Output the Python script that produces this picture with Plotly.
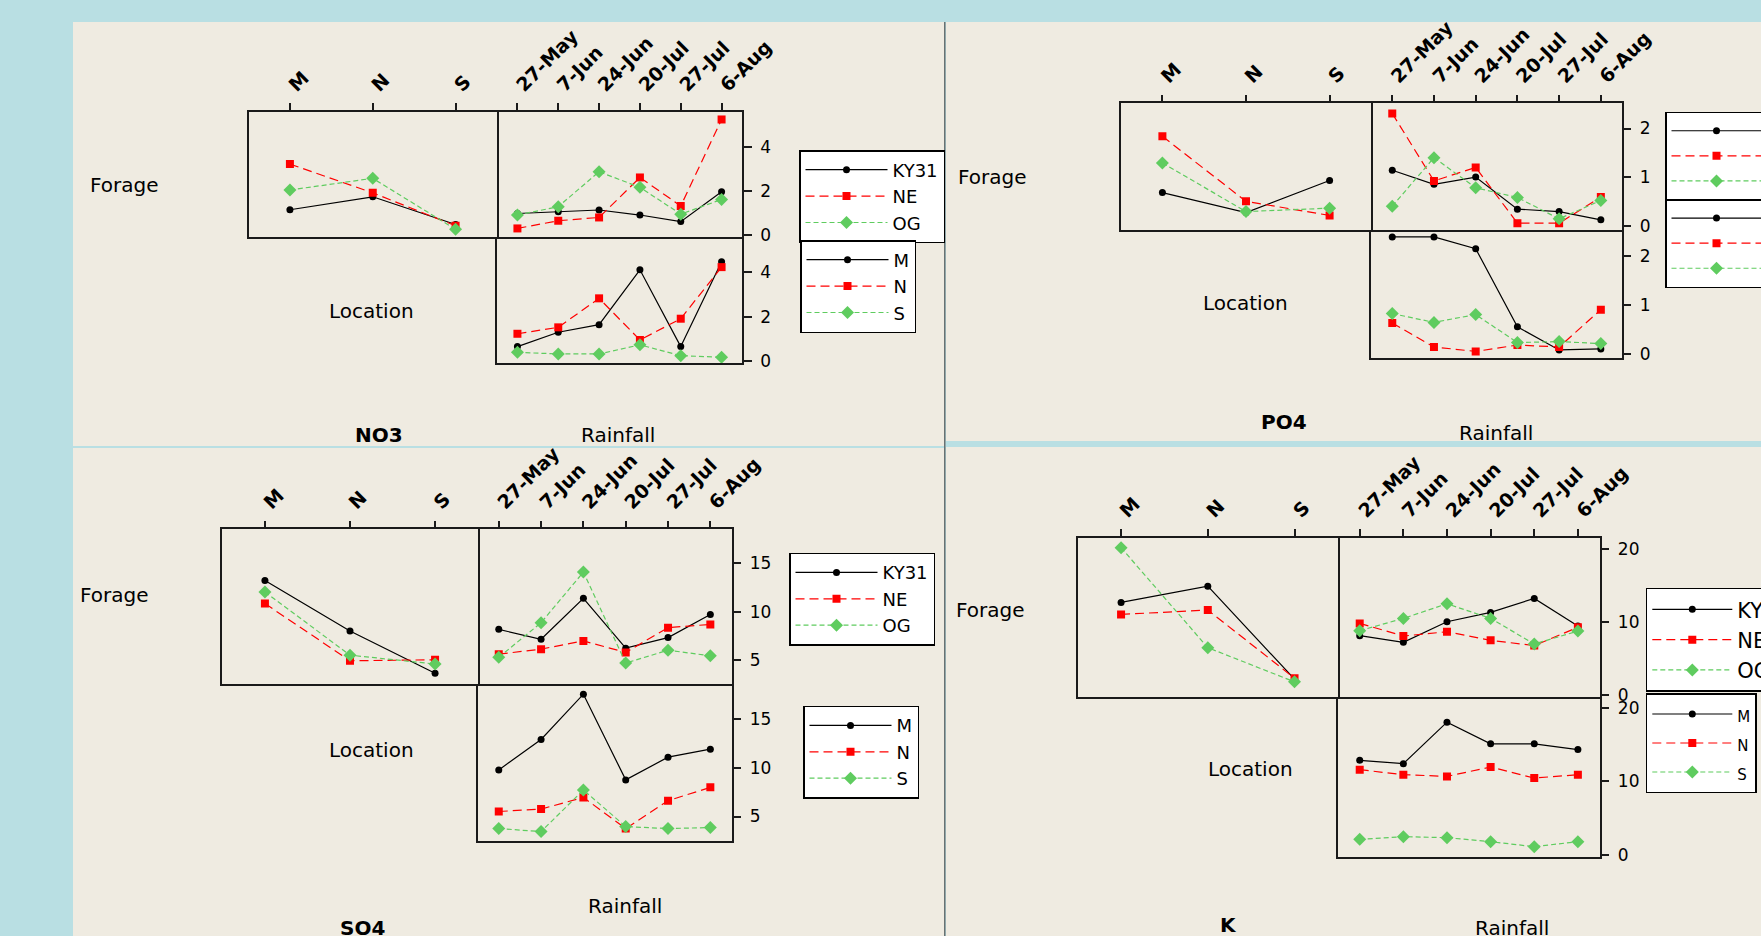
import plotly.graph_objects as go

# ---------------- data ----------------
locations = ["M", "N", "S"]
dates = ["27-May", "7-Jun", "24-Jun", "20-Jul", "27-Jul", "6-Aug"]
forages = ["KY31", "NE", "OG"]
responses = ["NO3", "PO4", "SO4", "K"]

# rows: KY31, NE, OG  (columns: M, N, S)
no3_forage_by_location = [[1.15, 1.74, 0.48], [3.23, 1.92, 0.42], [2.05, 2.58, 0.26]]
# rows: KY31, NE, OG  (columns: dates)
no3_forage_by_date = [[0.98, 1.06, 1.14, 0.91, 0.61, 1.97],
                      [0.30, 0.65, 0.80, 2.62, 1.32, 5.26],
                      [0.91, 1.29, 2.88, 2.17, 0.95, 1.62]]
# rows: M, N, S  (columns: dates)
no3_location_by_date = [[0.65, 1.30, 1.64, 4.12, 0.65, 4.48],
                        [1.23, 1.52, 2.83, 0.95, 1.91, 4.24],
                        [0.39, 0.32, 0.32, 0.73, 0.24, 0.17]]

po4_forage_by_location = [[0.68, 0.27, 0.93], [1.84, 0.50, 0.21], [1.29, 0.29, 0.36]]
po4_forage_by_date = [[1.14, 0.85, 1.00, 0.34, 0.29, 0.12],
                      [2.31, 0.92, 1.20, 0.05, 0.05, 0.59],
                      [0.40, 1.40, 0.78, 0.58, 0.14, 0.52]]
po4_location_by_date = [[2.38, 2.38, 2.14, 0.55, 0.08, 0.10],
                        [0.63, 0.14, 0.05, 0.18, 0.14, 0.90],
                        [0.82, 0.64, 0.80, 0.23, 0.25, 0.21]]

so4_forage_by_location = [[13.22, 8.00, 3.64], [10.83, 4.93, 5.03], [12.03, 5.51, 4.59]]
so4_forage_by_date = [[8.17, 7.15, 11.38, 6.23, 7.32, 9.71],
                      [5.61, 6.13, 6.98, 5.79, 8.35, 8.68],
                      [5.28, 8.86, 14.08, 4.69, 6.02, 5.44]]
so4_location_by_date = [[9.76, 12.87, 17.49, 8.74, 11.06, 11.88],
                        [5.51, 5.76, 6.95, 3.77, 6.61, 7.98],
                        [3.77, 3.46, 7.71, 3.97, 3.77, 3.87]]

k_forage_by_location = [[12.64, 14.86, 2.14], [11.00, 11.59, 2.27], [20.13, 6.45, 1.77]]
k_forage_by_date = [[8.09, 7.18, 10.00, 11.27, 13.18, 9.41],
                    [9.77, 8.04, 8.63, 7.45, 6.73, 9.23],
                    [8.77, 10.45, 12.45, 10.45, 6.95, 8.72]]
k_location_by_date = [[12.86, 12.41, 18.04, 15.09, 15.09, 14.31],
                      [11.59, 10.91, 10.68, 11.95, 10.45, 10.91],
                      [2.14, 2.50, 2.36, 1.82, 1.14, 1.82]]

y_ticks_step = [2, 1, 5, 10]
y_ranges = [[-0.09, 5.6], [-0.09, 2.52], [2.5, 18.5], [-0.3, 21.45]]

# ---------------- layout geometry (pixels) ----------------
W, H = 1761, 936
FONT = "DejaVu Sans"
BLUE = "#b9dfe3"
BEIGE = "#efebe1"
LINE = "#1a1a1a"


def fx(x):
    return x / W


def fy(y):
    return 1 - y / H


panels = [
    dict(x0=248.5, x1=497, x2=742, y0=112, y1=237, y2=363,
         leg1=(799, 150), leg2=(800, 240), leg1font=18, leg2font=18, leg2text=None, itemw=82,
         forage=(124, 185), location=(371, 311), title=(379, 435), rain=(618, 435)),
    dict(x0=1120.6, x1=1371.4, x2=1621.7, y0=103.3, y1=230, y2=358.3,
         leg1=(1665, 111.7), leg2=(1665, 199), leg1font=17, leg2font=17, leg2text=None, itemw=90,
         forage=(992, 177), location=(1245, 303), title=(1284, 422), rain=(1496, 433)),
    dict(x0=222.4, x1=477.6, x2=731.5, y0=529.3, y1=684.3, y2=841,
         leg1=(789, 552.7), leg2=(803, 705.7), leg1font=18, leg2font=18, leg2text=None, itemw=82,
         forage=(115, 595), location=(371, 750), title=(362, 928), rain=(625, 906)),
    dict(x0=1077.7, x1=1337.9, x2=1599.7, y0=538, y1=697, y2=857.3,
         leg1=(1645.8, 587.7), leg2=(1645.8, 693), leg1font=21, leg2font=20, leg2text=15, itemw=80,
         forage=(990, 610), location=(1250, 769), title=(1228, 925), rain=(1512, 928)),
]

data_sets = [
    (no3_forage_by_location, no3_forage_by_date, no3_location_by_date),
    (po4_forage_by_location, po4_forage_by_date, po4_location_by_date),
    (so4_forage_by_location, so4_forage_by_date, so4_location_by_date),
    (k_forage_by_location, k_forage_by_date, k_location_by_date),
]

styles = [
    dict(color="black", dash="solid", symbol="circle", size=7),
    dict(color="#ff0000", dash="9px,5px", symbol="square", size=8),
    dict(color="#5fcc5f", dash="5px,3px", symbol="diamond", size=10),
]

fig = go.Figure()


def ax_name(n, letter):
    return letter if n == 1 else f"{letter}{n}"


def add_lines(xcats, rows, names, n, legend_name, show, text_size=None):
    for row, name, st in zip(rows, names, styles):
        label = name if text_size is None else f"<span style='font-size:{text_size}px'>{name}</span>"
        fig.add_trace(go.Scatter(
            x=xcats, y=row, name=label, mode="lines+markers",
            line=dict(color=st["color"], dash=st["dash"], width=1.2),
            marker=dict(symbol=st["symbol"], size=st["size"], color=st["color"]),
            xaxis=ax_name(n, "x"), yaxis=ax_name(n, "y"),
            legend=legend_name, showlegend=show))


def frame(mirror):
    return dict(showline=True, linecolor=LINE, linewidth=1.5, mirror=mirror,
                showgrid=False, zeroline=False)


top_tick = dict(side="top", ticks="outside", ticklen=7, tickwidth=1.5,
                tickcolor=LINE, tickangle=-45,
                tickfont=dict(family=FONT, size=19, color="black", weight="bold"))

layout = {}
annotations = []
shapes = [
    dict(type="rect", xref="paper", yref="paper", x0=fx(73), x1=fx(944), y0=fy(446), y1=fy(22),
         fillcolor=BEIGE, line=dict(width=0), layer="below"),
    dict(type="rect", xref="paper", yref="paper", x0=fx(946), x1=fx(1761), y0=fy(441), y1=fy(22),
         fillcolor=BEIGE, line=dict(width=0), layer="below"),
    dict(type="rect", xref="paper", yref="paper", x0=fx(73), x1=fx(944), y0=fy(936), y1=fy(448),
         fillcolor=BEIGE, line=dict(width=0), layer="below"),
    dict(type="rect", xref="paper", yref="paper", x0=fx(946), x1=fx(1761), y0=fy(936), y1=fy(447),
         fillcolor=BEIGE, line=dict(width=0), layer="below"),
    dict(type="line", xref="paper", yref="paper", x0=fx(944.8), x1=fx(944.8), y0=fy(936), y1=fy(22),
         line=dict(color="#555555", width=1.2), layer="below"),
]

for i, (p, (fl, fd, ld)) in enumerate(zip(panels, data_sets)):
    n_loc, n_top, n_bot = 3 * i + 1, 3 * i + 2, 3 * i + 3
    leg_a = "legend" if i == 0 else f"legend{2 * i + 1}"
    leg_b = f"legend{2 * i + 2}"
    add_lines(locations, fl, forages, n_loc, leg_a, False)
    add_lines(dates, fd, forages, n_top, leg_a, True)
    add_lines(dates, ld, locations, n_bot, leg_b, True, p["leg2text"])

    yr = y_ranges[i]
    ytick = dict(side="right", ticks="outside", ticklen=8, tickwidth=1.5, tickcolor=LINE,
                 tick0=0, dtick=y_ticks_step[i], ticklabelstandoff=5,
                 tickfont=dict(family=FONT, size=17, color="black"))
    dom_loc_x = [fx(p["x0"]), fx(p["x1"])]
    dom_r_x = [fx(p["x1"]), fx(p["x2"])]
    dom_top_y = [fy(p["y1"]), fy(p["y0"])]
    dom_bot_y = [fy(p["y2"]), fy(p["y1"])]

    layout[f"xaxis{'' if n_loc == 1 else n_loc}"] = dict(
        domain=dom_loc_x, anchor=ax_name(n_loc, "y"), type="category",
        categoryorder="array", categoryarray=locations, range=[-0.5, 2.5],
        **frame(True), **top_tick)
    layout[f"yaxis{'' if n_loc == 1 else n_loc}"] = dict(
        domain=dom_top_y, anchor=ax_name(n_loc, "x"), range=yr, showticklabels=False,
        ticks="", **frame(True))
    layout[f"xaxis{n_top}"] = dict(
        domain=dom_r_x, anchor=ax_name(n_top, "y"), type="category",
        categoryorder="array", categoryarray=dates, range=[-0.5, 5.5],
        **frame(True), **top_tick)
    layout[f"yaxis{n_top}"] = dict(domain=dom_top_y, anchor=ax_name(n_top, "x"), range=yr,
                                   **frame(False), **ytick)
    layout[f"xaxis{n_bot}"] = dict(
        domain=dom_r_x, anchor=ax_name(n_bot, "y"), type="category",
        categoryorder="array", categoryarray=dates, range=[-0.5, 5.5],
        showticklabels=False, ticks="", **frame(False))
    layout[f"yaxis{n_bot}"] = dict(domain=dom_bot_y, anchor=ax_name(n_bot, "x"), range=yr,
                                   **frame(True), **ytick)

    legend_common = dict(xanchor="left", yanchor="top", bgcolor="white", bordercolor="black",
                         borderwidth=1.5, itemwidth=p["itemw"], tracegroupgap=0,
                         itemclick=False, itemdoubleclick=False)
    layout[leg_a] = dict(x=fx(p["leg1"][0]), y=fy(p["leg1"][1]),
                         font=dict(family=FONT, size=p["leg1font"], color="black"), **legend_common)
    layout[leg_b] = dict(x=fx(p["leg2"][0]), y=fy(p["leg2"][1]),
                         font=dict(family=FONT, size=p["leg2font"], color="black"), **legend_common)

    for key, text, bold in [("forage", "Forage", False), ("location", "Location", False),
                            ("title", responses[i], True), ("rain", "Rainfall", False)]:
        cx, cy = p[key]
        annotations.append(dict(
            text=text, x=fx(cx), y=fy(cy), xref="paper", yref="paper", showarrow=False,
            xanchor="center", yanchor="middle",
            font=dict(family=FONT, size=20, color="black", weight="bold" if bold else "normal")))

fig.update_layout(
    width=W, height=H, autosize=False,
    margin=dict(l=0, r=0, t=0, b=0, autoexpand=False),
    paper_bgcolor=BLUE, plot_bgcolor="white",
    annotations=annotations, shapes=shapes,
    font=dict(family=FONT, color="black"),
    **layout)

fig.write_html("out.html", config={"displayModeBar": False},
               post_script="document.body.style.margin='0';document.body.style.overflow='hidden';")
